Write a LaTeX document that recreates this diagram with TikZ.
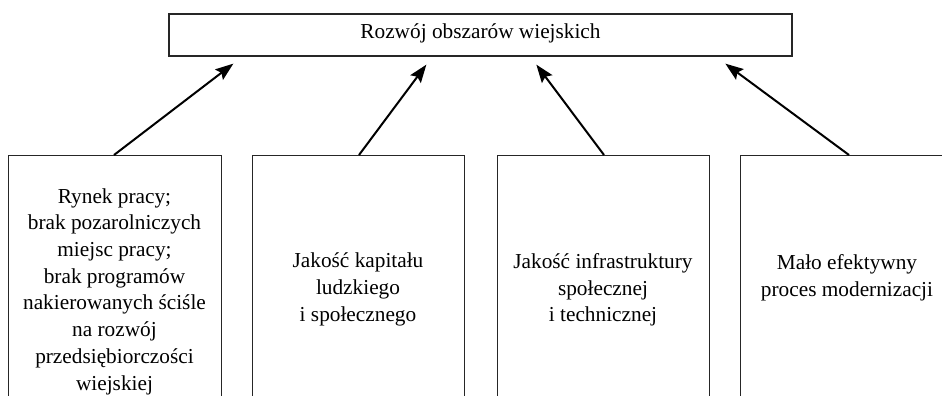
\documentclass[tikz,border=0pt]{standalone}
\usepackage{fontspec}
\setmainfont{Liberation Serif}
\usetikzlibrary{arrows.meta,calc}
\begin{document}
\begin{tikzpicture}[x=1pt,y=1pt,
  boxstyle/.style={draw=black!85,line width=1.3pt,rectangle,inner sep=0pt},
  txt/.style={align=center,inner sep=0pt,font=\fontsize{21.3}{26.7}\selectfont},
  arr/.style={line width=2pt,-{Stealth[length=18pt,width=13pt,inset=3pt]}}]
\useasboundingbox (0,0) rectangle (942,-396);
\clip (0,0) rectangle (942,-396);
% top box
\node[boxstyle,minimum width=623pt,minimum height=42pt] (top) at (480.5,-35) {};
\node[txt] (toptxt) at (480.5,-33) {Rozwój obszarów wiejskich};
% bottom boxes
\node[boxstyle,minimum width=213pt,minimum height=300pt,anchor=north west] (b1) at (8,-155) {};
\node[boxstyle,minimum width=212pt,minimum height=300pt,anchor=north west] (b2) at (252,-155) {};
\node[boxstyle,minimum width=212pt,minimum height=300pt,anchor=north west] (b3) at (497,-155) {};
\node[boxstyle,minimum width=214pt,minimum height=300pt,anchor=north west] (b4) at (740,-155) {};
% texts
\node[txt] (t1) at (114.5,-291.5) {Rynek pracy;\\brak pozarolniczych\\miejsc pracy;\\brak programów\\nakierowanych ściśle\\na rozwój\\przedsiębiorczości\\wiejskiej};
\node[txt] (t2) at (358,-289.5) {Jakość kapitału\\ludzkiego\\i społecznego};
\node[txt] (t3) at (603,-290) {Jakość infrastruktury\\społecznej\\i technicznej};
\node[txt] (t4) at (847,-277.5) {Mało efektywny\\proces modernizacji};
% arrow endpoints
\coordinate (s1) at ($(b1.north west)+(106,0)$);
\coordinate (s2) at ($(b2.north west)+(107,0)$);
\coordinate (s3) at ($(b3.north west)+(107,0)$);
\coordinate (s4) at ($(b4.north west)+(109,0)$);
\coordinate (e1) at ($(top.south west)+(65,-7)$);
\coordinate (e2) at ($(top.south west)+(258,-8)$);
\coordinate (e3) at ($(top.south west)+(368,-8)$);
\coordinate (e4) at ($(top.south west)+(557,-7)$);
\draw[arr] (s1) -- (e1);
\draw[arr] (s2) -- (e2);
\draw[arr] (s3) -- (e3);
\draw[arr] (s4) -- (e4);
\end{tikzpicture}
\end{document}
